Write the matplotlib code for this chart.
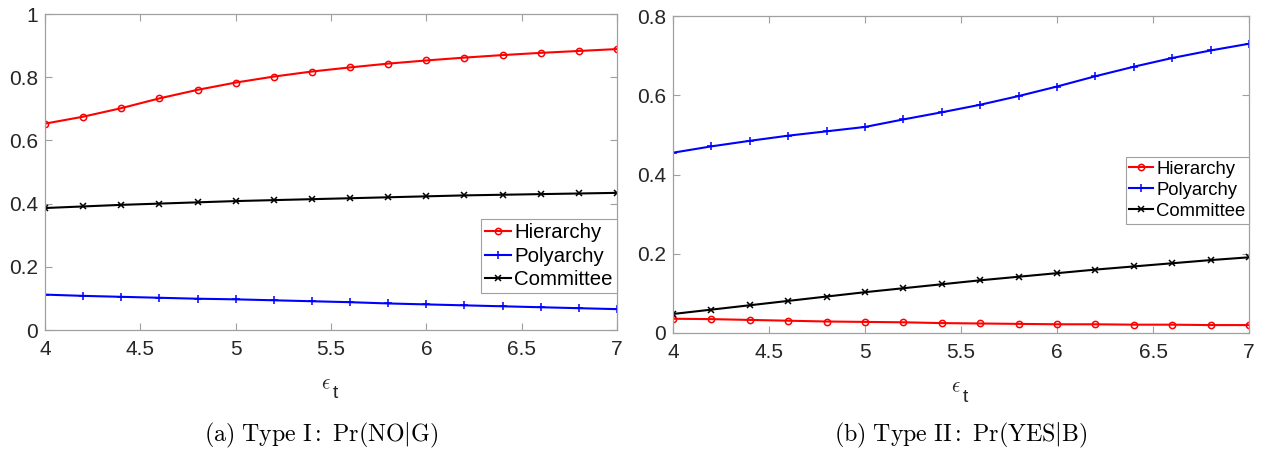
import numpy as np
import matplotlib.pyplot as plt

plt.rcParams['font.family'] = ['Liberation Sans', 'DejaVu Sans']
plt.rcParams['mathtext.fontset'] = 'cm'

# eixo x: epsilon_t de 4 a 7
eps = [4.0, 4.2, 4.4, 4.6, 4.8, 5.0, 5.2, 5.4, 5.6, 5.8, 6.0, 6.2, 6.4, 6.6, 6.8, 7.0]

# (a) Type I: Pr(NO|G)
hier_a = [0.653, 0.675, 0.702, 0.733, 0.760, 0.783, 0.802, 0.818, 0.831, 0.843,
          0.853, 0.862, 0.870, 0.877, 0.883, 0.889]
poly_a = [0.112, 0.108, 0.105, 0.102, 0.099, 0.097, 0.094, 0.091, 0.088, 0.084,
          0.081, 0.078, 0.075, 0.072, 0.069, 0.066]
comm_a = [0.386, 0.391, 0.396, 0.400, 0.404, 0.408, 0.411, 0.414, 0.417, 0.420,
          0.423, 0.426, 0.428, 0.430, 0.432, 0.434]

# (b) Type II: Pr(YES|B)
hier_b = [0.036, 0.035, 0.033, 0.031, 0.029, 0.028, 0.027, 0.025, 0.024, 0.023,
          0.022, 0.022, 0.021, 0.021, 0.020, 0.020]
poly_b = [0.455, 0.471, 0.485, 0.498, 0.509, 0.520, 0.539, 0.557, 0.576, 0.598,
          0.622, 0.648, 0.672, 0.694, 0.713, 0.730]
comm_b = [0.048, 0.059, 0.070, 0.081, 0.092, 0.103, 0.113, 0.123, 0.133, 0.142,
          0.151, 0.160, 0.168, 0.176, 0.184, 0.191]

xticks = [4, 4.5, 5, 5.5, 6, 6.5, 7]
xticklabels = ['4', '4.5', '5', '5.5', '6', '6.5', '7']

fig = plt.figure(figsize=(12.7, 4.5), dpi=100)
ax1 = fig.add_axes([45 / 1270, 1 - 330 / 450, 572 / 1270, 316 / 450])
ax2 = fig.add_axes([673 / 1270, 1 - 333 / 450, 576 / 1270, 317 / 450])

cinza = '#a0a0a0'


def desenha(ax, h, p, c, yticks, ylabels, ylim, legsize, legtop):
    ax.plot(eps, h, color='red', marker='o', markersize=4.5, markerfacecolor='none',
            markeredgewidth=1.1, linewidth=1.5, label='Hierarchy')
    ax.plot(eps, p, color='blue', marker='+', markersize=6, markeredgewidth=1.1,
            linewidth=1.5, label='Polyarchy')
    ax.plot(eps, c, color='black', marker='x', markersize=4, markeredgewidth=1.1,
            linewidth=1.5, label='Committee')
    ax.set_xlim(4, 7)
    ax.set_ylim(*ylim)
    ax.set_xticks(xticks)
    ax.set_xticklabels(xticklabels)
    ax.set_yticks(yticks)
    ax.set_yticklabels(ylabels)
    ax.tick_params(direction='in', top=True, right=True, labelsize=15,
                   labelcolor='#262626', color=cinza, length=5, width=0.8)
    ax.tick_params(axis='x', pad=7)
    ax.tick_params(axis='y', pad=5)
    for s in ax.spines.values():
        s.set_color(cinza)
        s.set_linewidth(0.9)
    leg = ax.legend(loc='upper right', bbox_to_anchor=(1.0, legtop), fontsize=legsize,
                    fancybox=False, framealpha=1, edgecolor=cinza,
                    handlelength=1.3, handletextpad=0.15, borderpad=0.2,
                    labelspacing=0.22, borderaxespad=0)
    leg.get_frame().set_linewidth(0.8)
    return ax


desenha(ax1, hier_a, poly_a, comm_a, [0, 0.2, 0.4, 0.6, 0.8, 1],
        ['0', '0.2', '0.4', '0.6', '0.8', '1'], (0, 1), 14.7, 0.351)
desenha(ax2, hier_b, poly_b, comm_b, [0, 0.2, 0.4, 0.6, 0.8],
        ['0', '0.2', '0.4', '0.6', '0.8'], (0, 0.8), 13.3, 0.555)

# rótulo do eixo x (epsilon com índice t, estilo MATLAB)
for cx, dy in [(326, 0), (956, 3)]:
    fig.text(cx / 1270, 1 - (384 + dy) / 450, r'$\epsilon$', ha='center',
             va='center', fontsize=15, color='#262626')
    fig.text((cx + 9) / 1270, 1 - (394 + dy) / 450, 't', ha='center',
             va='center', fontsize=14, color='#262626')

# legendas das figuras (a) e (b)
fig.text(321 / 1270, 1 - 435 / 450, r'$\mathrm{(a)\ Type\ I{:}\ Pr(NO|G)}$',
         ha='center', va='center', fontsize=17.2)
fig.text(961 / 1270, 1 - 435 / 450, r'$\mathrm{(b)\ Type\ II{:}\ Pr(YES|B)}$',
         ha='center', va='center', fontsize=17.2)

plt.savefig('out.png', dpi=100)
